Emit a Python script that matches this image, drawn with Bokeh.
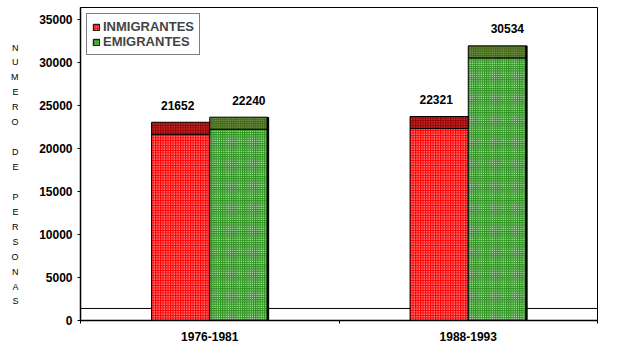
from bokeh.plotting import figure
from bokeh.models import (FixedTicker, Range1d, Span, Legend, LegendItem,
                          ColumnDataSource, LinearAxis)
from bokeh.core.properties import value
from bokeh.embed import file_html
from bokeh.resources import INLINE

# ---- data ----
categories = ["1976-1981", "1988-1993"]
inmigrantes = [21652, 22321]
emigrantes = [22240, 30534]
series_names = ["INMIGRANTES", "EMIGRANTES"]
y_ticks = [0, 5000, 10000, 15000, 20000, 25000, 30000, 35000]
axis_title_letters = ["N", "U", "M", "E", "R", "O", "", "D", "E", "",
                      "P", "E", "R", "S", "O", "N", "A", "S"]

# ---- layout / style constants ----
FONT = "Liberation Sans"
DEPTH = 1400          # 3D top face height (value units)
BAR_W = 0.225
LABEL_UP = 29         # px
Y_MAX = 36395
PX_PER_UNIT = 313.0 / Y_MAX

centers = [i + 0.5 for i in range(len(categories))]
bounds = [float(i) for i in range(len(categories) + 1)]
x_in = [c - BAR_W / 2 for c in centers]
x_em = [c + BAR_W / 2 for c in centers]

src_in = ColumnDataSource(dict(x=x_in, top=inmigrantes,
                               top3d=[v + DEPTH for v in inmigrantes],
                               lab=[str(v) for v in inmigrantes]))
src_em = ColumnDataSource(dict(x=x_em, top=emigrantes,
                               xr=[x + BAR_W / 2 for x in x_em],
                               top3d=[v + DEPTH for v in emigrantes],
                               lab=[str(v) for v in emigrantes]))

p = figure(width=601, height=343,
           x_range=Range1d(0, len(categories)), y_range=Range1d(0, Y_MAX),
           output_backend="svg", toolbar_location=None,
           min_border_left=80, min_border_right=4,
           min_border_top=7, min_border_bottom=23)
p.title.visible = False
p.xgrid.visible = False
p.ygrid.visible = False
p.outline_line_color = "black"
p.outline_line_width = 1
p.background_fill_color = "white"
p.border_fill_color = "white"

# floor back edge
floor = Span(location=DEPTH, dimension="width", line_color="black",
             line_width=1, level="underlay")
p.add_layout(floor)

# front faces
r_in = p.vbar(x="x", top="top", bottom=0, width=BAR_W, source=src_in,
              fill_color="#ff0000", line_color="black", line_width=1,
              hatch_pattern="dot", hatch_color="white", hatch_scale=2.5,
              hatch_weight=1)
r_em = p.vbar(x="x", top="top", bottom=0, width=BAR_W, source=src_em,
              fill_color="#2e9420", line_color="black", line_width=1,
              hatch_pattern="dot", hatch_color="white", hatch_scale=2.2,
              hatch_weight=1.3)
# top faces (3D effect)
p.vbar(x="x", top="top3d", bottom="top", width=BAR_W, source=src_in,
       fill_color="#a00000", line_color="black", line_width=1,
       hatch_pattern="dot", hatch_color="#d06a6a", hatch_scale=2.5,
       hatch_weight=1)
p.vbar(x="x", top="top3d", bottom="top", width=BAR_W, source=src_em,
       fill_color="#456b16", line_color="black", line_width=1,
       hatch_pattern="dot", hatch_color="#93ab78",
       hatch_scale=2.2, hatch_weight=1.3)
# dark side edge of the green bars
p.segment(x0="xr", y0=0, x1="xr", y1="top3d", source=src_em,
          line_color="black", line_width=2.5)

# value labels
p.text(x="x", y="top", text="lab", source=src_in, text_align="center",
       text_baseline="middle", text_font=value(FONT), text_font_style="bold",
       text_font_size="12px", y_offset=-LABEL_UP, x_offset=-3)
p.text(x="x", y="top", text="lab", source=src_em, text_align="center",
       text_baseline="middle", text_font=value(FONT), text_font_style="bold",
       text_font_size="12px", y_offset=-LABEL_UP, x_offset=10)

# axes
xa = p.xaxis[0]
xa.ticker = FixedTicker(ticks=centers, minor_ticks=bounds)
xa.major_label_overrides = {c: lab for c, lab in zip(centers, categories)}
xa.major_tick_out = 0
xa.major_tick_in = 0
xa.minor_tick_out = 3
xa.minor_tick_in = 0
xa.minor_tick_line_color = "black"
xa.axis_line_color = "black"
xa.axis_line_width = 1.5
xa.major_label_standoff = 8
xa.major_label_text_font = FONT
xa.major_label_text_font_style = "bold"
xa.major_label_text_font_size = "12px"
xa.major_label_text_color = "black"

ya = p.yaxis[0]
ya.ticker = FixedTicker(ticks=y_ticks)
ya.major_tick_out = 3
ya.major_tick_in = 0
ya.minor_tick_out = 0
ya.minor_tick_in = 0
ya.axis_line_color = "black"
ya.axis_line_width = 1.5
ya.major_label_standoff = 5
ya.major_label_text_font = FONT
ya.major_label_text_font_style = "bold"
ya.major_label_text_font_size = "12px"
ya.major_label_text_color = "black"

# vertical stacked axis title, letters set as labels of a bare axis
FIRST_LETTER_PX = 273.0   # px above the x axis
LETTER_STEP_PX = 14.94
letter_ticks = []
letter_over = {}
for i, ch in enumerate(axis_title_letters):
    if not ch:
        continue
    v = (FIRST_LETTER_PX - i * LETTER_STEP_PX) / PX_PER_UNIT
    letter_ticks.append(v)
    letter_over[v] = ch
ta = LinearAxis(ticker=FixedTicker(ticks=letter_ticks, minor_ticks=[]),
                major_label_overrides=letter_over,
                axis_line_color=None, major_tick_line_color=None,
                minor_tick_line_color=None, major_tick_out=0, major_tick_in=0,
                major_label_standoff=18, major_label_text_font=FONT,
                major_label_text_font_size="9px",
                major_label_text_color="black")
p.add_layout(ta, "left")

legend = Legend(items=[LegendItem(label=series_names[0], renderers=[r_in]),
                       LegendItem(label=series_names[1], renderers=[r_em])],
                location="top_left", margin=6, padding=5, spacing=0,
                glyph_width=8, glyph_height=8, label_height=13,
                label_standoff=3, label_text_font=FONT,
                label_text_font_style="bold", label_text_font_size="13px",
                border_line_color="black", border_line_width=1,
                background_fill_alpha=1)
p.add_layout(legend)

open("out.html", "w").write(file_html(p, INLINE))
